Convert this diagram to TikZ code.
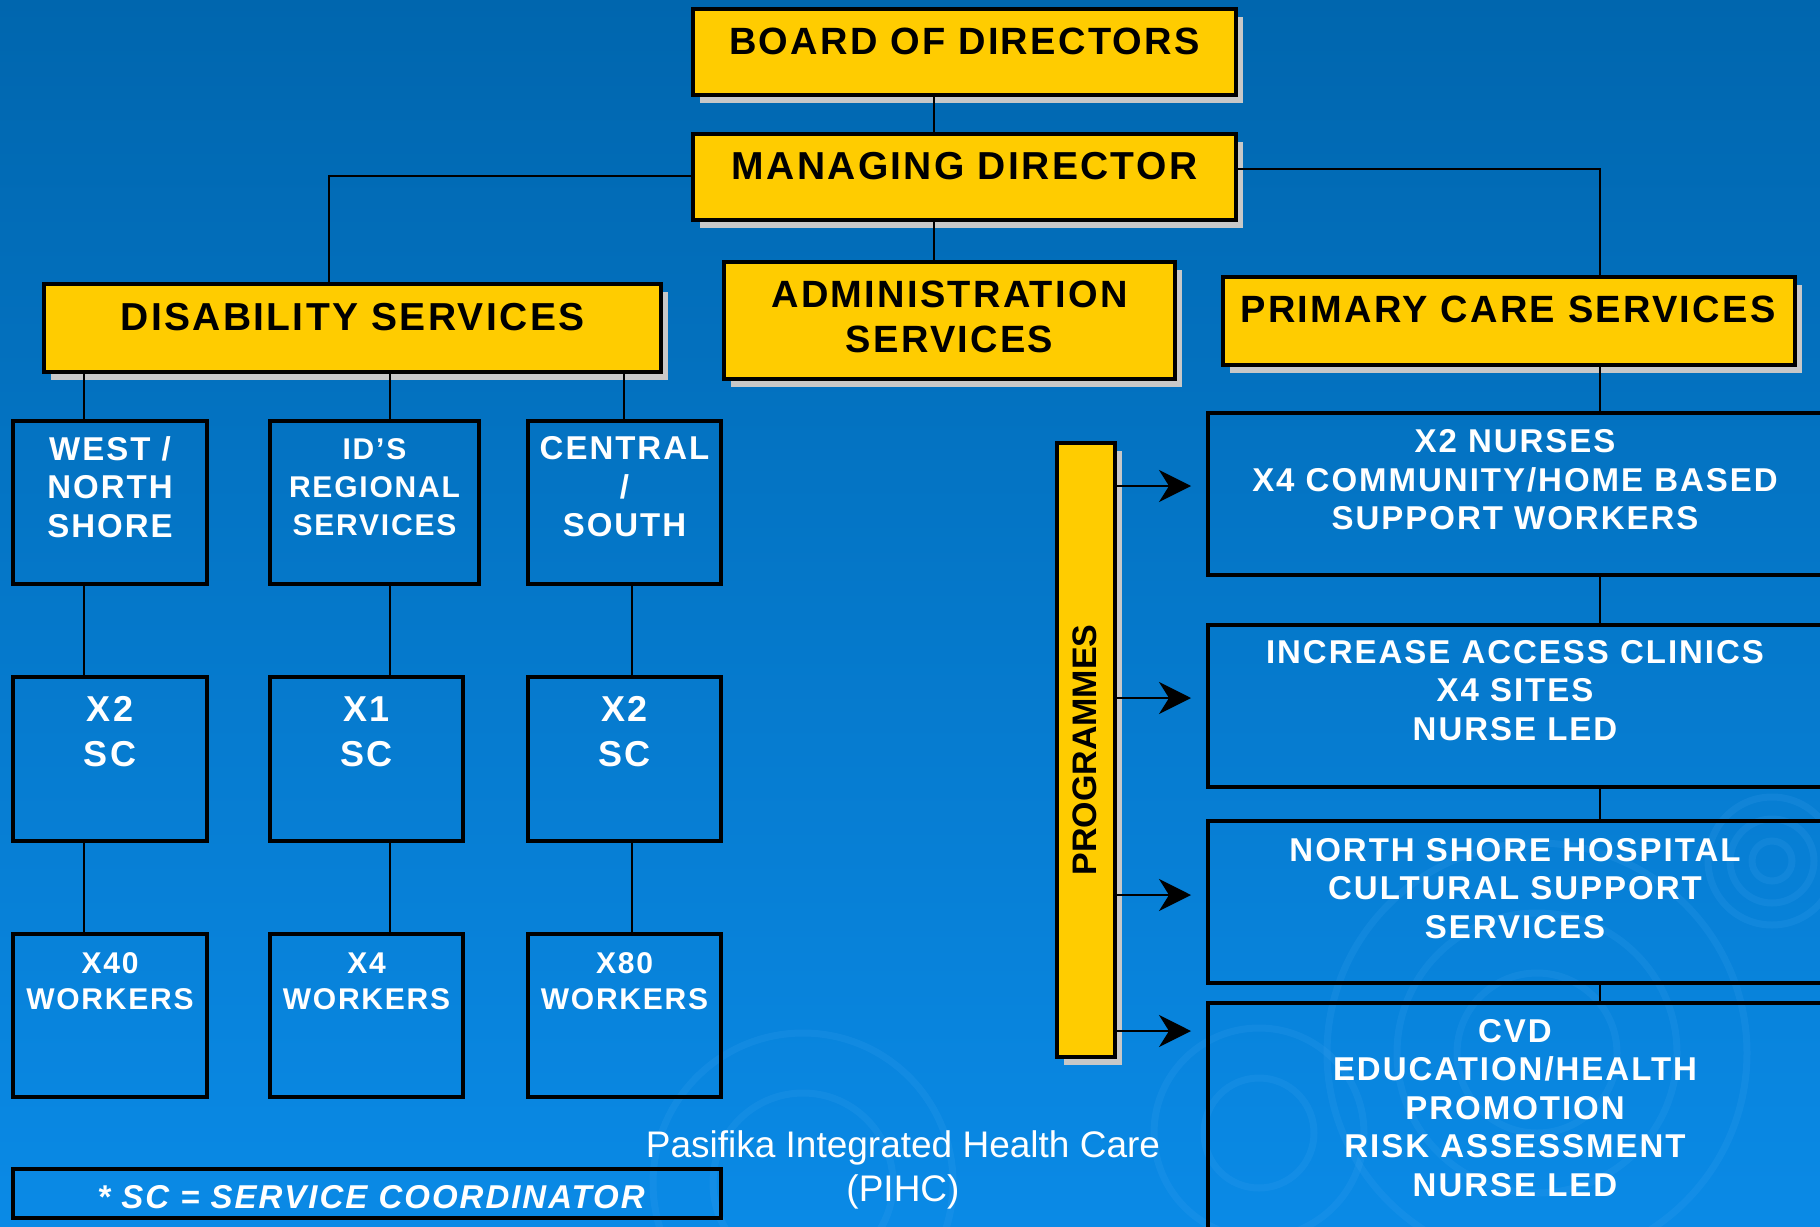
\documentclass[tikz,border=0pt]{standalone}
\usepackage{fontspec}
\setmainfont{Liberation Sans}[LetterSpace=6]
\newfontfamily\plainfont{Liberation Sans}
\usetikzlibrary{arrows.meta,shadows}

\definecolor{bgtop}{HTML}{0066AE}
\definecolor{bgbot}{HTML}{0A8AE6}
\definecolor{ylw}{HTML}{FFCC00}
\definecolor{shd}{HTML}{C8C8C8}
\definecolor{ring}{HTML}{46A8F2}

\tikzset{
  ybox/.style={draw=black, line width=4pt, fill=ylw, inner sep=0pt,
    drop shadow={shadow xshift=7pt, shadow yshift=-8pt, fill=shd, opacity=1}},
  bbox/.style={draw=black, line width=4pt, inner sep=0pt},
  ytxt/.style={inner sep=0pt, align=center, text=black, font=\fontsize{38}{45}\selectfont\bfseries},
  wtxt/.style={inner sep=0pt, align=center, text=white, font=\fontsize{33}{38.5}\selectfont\bfseries},
  link/.style={line width=2pt},
  arr/.style={line width=2pt, -{Stealth[length=32pt,width=32pt,inset=10pt]}, shorten >=15pt},
  ringline/.style={draw=ring, line width=7pt, opacity=0.16},
}

\begin{document}
\begin{tikzpicture}[x=1pt,y=-1pt]
                \clip (0,0) rectangle (1820,1226);
                \shade[top color=bgtop, middle color=bgtop, bottom color=bgbot] (0,0) rectangle (1820,1226);
                % faint rings in the background
                \foreach \r in {20,42,64} \draw[ringline] (1772,861) circle (\r);
                \foreach \r in {80,140,210} \draw[ringline] (1537,1053) circle (\r);
                \foreach \r in {55,105} \draw[ringline] (1259,1133) circle (\r);
                \foreach \r in {90,150} \draw[ringline] (803,1183) circle (\r);
                % yellow boxes
                \node[ybox, minimum width=543, minimum height=86] (board) at (964.5, 52) {};
                \node[ybox, minimum width=543, minimum height=86] (md) at (964.5, 177) {};
                \node[ybox, minimum width=451, minimum height=117] (admin) at (949.5, 320.5) {};
                \node[ybox, minimum width=617, minimum height=88] (dis) at (352.5, 328) {};
                \node[ybox, minimum width=572, minimum height=88] (prim) at (1509, 321) {};
                \node[ybox, minimum width=58, minimum height=614] (prog) at (1086, 750) {};
                % disability columns
                \node[bbox, minimum width=194, minimum height=163] (west) at (110, 502.5) {};
                \node[bbox, minimum width=209, minimum height=163] (ids) at (374.5, 502.5) {};
                \node[bbox, minimum width=193, minimum height=163] (cent) at (624.5, 502.5) {};
                \node[bbox, minimum width=194, minimum height=164] (sc1) at (110, 759) {};
                \node[bbox, minimum width=193, minimum height=164] (sc2) at (366.5, 759) {};
                \node[bbox, minimum width=193, minimum height=164] (sc3) at (624.5, 759) {};
                \node[bbox, minimum width=194, minimum height=163] (wk1) at (110, 1015.5) {};
                \node[bbox, minimum width=193, minimum height=163] (wk2) at (366.5, 1015.5) {};
                \node[bbox, minimum width=193, minimum height=163] (wk3) at (624.5, 1015.5) {};
                \node[bbox, minimum width=708, minimum height=49] (note) at (367, 1193.5) {};
                % primary care boxes
                \node[bbox, minimum width=632, minimum height=162] (r1) at (1524, 494) {};
                \node[bbox, minimum width=632, minimum height=162] (r2) at (1524, 706) {};
                \node[bbox, minimum width=632, minimum height=162] (r3) at (1524, 902) {};
                \node[bbox, minimum width=632, minimum height=257] (r4) at (1524, 1131.5) {};
                % texts
                \node[ytxt] (t-board) at (964.5, 41) {BOARD OF DIRECTORS};
                \node[ytxt, font=\fontsize{39}{45}\selectfont\bfseries] (t-md) at (964.5, 166) {MANAGING DIRECTOR};
                \node[ytxt] (t-admin) at (949.5, 316.5) {ADMINISTRATION\\SERVICES};
                \node[ytxt, font=\fontsize{39}{45}\selectfont\bfseries] (t-dis) at (352.5, 317) {DISABILITY SERVICES};
                \node[ytxt] (t-prim) at (1508, 309) {PRIMARY CARE SERVICES};
                \node[inner sep=0pt, rotate=90, font=\plainfont\fontsize{34}{40}\selectfont\bfseries] (t-prog) at (1085, 750) {PROGRAMMES};
                \node[wtxt] (t-west) at (110, 487) {WEST /\\NORTH\\SHORE};
                \node[wtxt, font=\fontsize{30}{38}\selectfont\bfseries] (t-ids) at (374.5, 487) {ID’S\\REGIONAL\\SERVICES};
                \node[wtxt] (t-cent) at (624.5, 487) {CENTRAL\\/\\SOUTH};
                \node[wtxt, font=\fontsize{36}{45}\selectfont\bfseries] (t-sc1) at (110, 731.5) {X2\\SC};
                \node[wtxt, font=\fontsize{36}{45}\selectfont\bfseries] (t-sc2) at (366.5, 731.5) {X1\\SC};
                \node[wtxt, font=\fontsize{36}{45}\selectfont\bfseries] (t-sc3) at (624.5, 731.5) {X2\\SC};
                \node[wtxt, font=\fontsize{30}{36}\selectfont\bfseries] (t-wk1) at (110, 981) {X40\\WORKERS};
                \node[wtxt, font=\fontsize{30}{36}\selectfont\bfseries] (t-wk2) at (366.5, 981) {X4\\WORKERS};
                \node[wtxt, font=\fontsize{30}{36}\selectfont\bfseries] (t-wk3) at (624.5, 981) {X80\\WORKERS};
                \node[wtxt, font=\fontsize{33}{38}\selectfont\bfseries\itshape] (t-note) at (371, 1197) {* SC = SERVICE COORDINATOR};
                \node[wtxt] (t-r1) at (1515, 480) {X2 NURSES\\X4 COMMUNITY/HOME BASED\\SUPPORT WORKERS};
                \node[wtxt] (t-r2) at (1515, 690.5) {INCREASE ACCESS CLINICS\\X4 SITES\\NURSE LED};
                \node[wtxt] (t-r3) at (1515, 888.5) {NORTH SHORE HOSPITAL\\CULTURAL SUPPORT\\SERVICES};
                \node[wtxt] (t-r4) at (1515, 1108) {CVD\\EDUCATION/HEALTH\\PROMOTION\\RISK ASSESSMENT\\NURSE LED};
                \node[inner sep=0pt, align=center, text=white, font=\plainfont\fontsize{37}{44}\selectfont] (footer) at (903, 1170) {Pasifika Integrated Health Care\\(PIHC)};
                % connectors
                \coordinate (spm) at (934, 0);
                \coordinate (spl) at (329, 176);
                \coordinate (spr) at (1600, 169);
                \coordinate (ca) at (84, 0);
                \coordinate (cb) at (390, 0);
                \coordinate (cc) at (624, 0);
                \coordinate (cd) at (632, 0);
                \draw[link] (board.south -| spm) to (md.north -| spm);
                \draw[link] (md.south -| spm) to (admin.north -| spm);
                \draw[link] (md.west |- spl) to (spl) to (dis.north -| spl);
                \draw[link] (md.east |- spr) to (spr) to (prim.north -| spr);
                \draw[link] (prim.south -| spr) to (r1.north -| spr);
                \draw[link] (r1.south -| spr) to (r2.north -| spr);
                \draw[link] (r2.south -| spr) to (r3.north -| spr);
                \draw[link] (r3.south -| spr) to (r4.north -| spr);
                \draw[link] (dis.south -| ca) to (west.north -| ca);
                \draw[link] (west.south -| ca) to (sc1.north -| ca);
                \draw[link] (sc1.south -| ca) to (wk1.north -| ca);
                \draw[link] (dis.south -| cb) to (ids.north -| cb);
                \draw[link] (ids.south -| cb) to (sc2.north -| cb);
                \draw[link] (sc2.south -| cb) to (wk2.north -| cb);
                \draw[link] (dis.south -| cc) to (cent.north -| cc);
                \draw[link] (cent.south -| cd) to (sc3.north -| cd);
                \draw[link] (sc3.south -| cd) to (wk3.north -| cd);
                % programme arrows
                \coordinate (a1) at (0, 486);
                \coordinate (a2) at (0, 698);
                \coordinate (a3) at (0, 895);
                \coordinate (a4) at (0, 1031);
                \draw[arr] (prog.east |- a1) to (r1.west |- a1);
                \draw[arr] (prog.east |- a2) to (r2.west |- a2);
                \draw[arr] (prog.east |- a3) to (r3.west |- a3);
                \draw[arr] (prog.east |- a4) to (r4.west |- a4);
\end{tikzpicture}
\end{document}
